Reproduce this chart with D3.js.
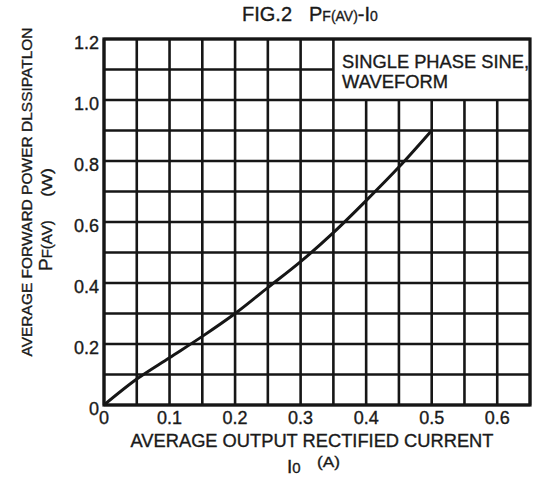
<!DOCTYPE html>
<html><head><meta charset="utf-8">
<script src="https://cdn.jsdelivr.net/npm/d3@7"></script>
<style>body{margin:0;background:#fff}svg{display:block}text{font-family:"Liberation Sans",Arial,sans-serif;fill:#1a1a1a;stroke:#1a1a1a;stroke-width:0.35px}</style>
</head><body><svg id="c" width="535" height="478"></svg>
<script>
const currentA = [0, 0.05, 0.1, 0.15, 0.2, 0.25, 0.3, 0.35, 0.4, 0.45, 0.5];
const powerW   = [0, 0.085, 0.155, 0.225, 0.3, 0.385, 0.47, 0.565, 0.67, 0.78, 0.9];
const xTicks = [0, 0.1, 0.2, 0.3, 0.4, 0.5, 0.6];
const xTickLabels = ["0", "0.1", "0.2", "0.3", "0.4", "0.5", "0.6"];
const yTicks = [0, 0.2, 0.4, 0.6, 0.8, 1.0, 1.2];
const yTickLabels = ["0", "0.2", "0.4", "0.6", "0.8", "1.0", "1.2"];
const xGrid = d3.range(0, 14).map(i => i * 0.05);
const yGrid = d3.range(0, 13).map(i => i * 0.1);
const legendBox = {x0: 0.35, x1: 0.65, y0: 1.0, y1: 1.2};

const svg = d3.select("#c");
const x = d3.scaleLinear().domain([0, 0.65]).range([104, 530]);
const y = d3.scaleLinear().domain([0, 1.2]).range([405, 39]);
const ink = "#161616";

const g = svg.append("g");
xGrid.forEach(v => {
  const top = (v > legendBox.x0 + 1e-6) ? y(legendBox.y0) : y(1.2);
  g.append("line").attr("x1", x(v)).attr("x2", x(v)).attr("y1", y(0)).attr("y2", top)
    .attr("stroke", ink).attr("stroke-width", 2.6);
});
yGrid.forEach(v => {
  const right = (v > legendBox.y0 + 1e-6 && v < 1.2 - 1e-6) ? x(legendBox.x0) : x(0.65);
  g.append("line").attr("x1", x(0)).attr("x2", right).attr("y1", y(v)).attr("y2", y(v))
    .attr("stroke", ink).attr("stroke-width", 2.6);
});
g.append("rect").attr("x", x(0)).attr("y", y(1.2)).attr("width", x(0.65) - x(0)).attr("height", y(0) - y(1.2))
  .attr("fill", "none").attr("stroke", ink).attr("stroke-width", 3.2);

const line = d3.line().x((d, i) => x(currentA[i])).y(d => y(d)).curve(d3.curveMonotoneX);
g.append("path").datum(powerW).attr("d", line).attr("fill", "none").attr("stroke", ink).attr("stroke-width", 3);

svg.selectAll(".xt").data(xTicks).enter().append("text")
  .attr("x", d => x(d)).attr("y", 424).attr("text-anchor", "middle").attr("font-size", 18)
  .text((d, i) => xTickLabels[i]);
svg.selectAll(".yt").data(yTicks).enter().append("text")
  .attr("x", 99).attr("y", d => y(d) + 10).attr("text-anchor", "end").attr("font-size", 18)
  .text((d, i) => yTickLabels[i]);

svg.append("text").attr("x", 342).attr("y", 68).attr("font-size", 18)
  .attr("textLength", 187).attr("lengthAdjust", "spacingAndGlyphs").text("SINGLE PHASE SINE,");
svg.append("text").attr("x", 342).attr("y", 88).attr("font-size", 18)
  .attr("textLength", 106).attr("lengthAdjust", "spacingAndGlyphs").text("WAVEFORM");

const t = svg.append("text").attr("y", 21).attr("font-size", 20);
t.append("tspan").attr("x", 242).text("FIG.2");
t.append("tspan").attr("x", 309).text("P");
t.append("tspan").attr("font-size", 14).text("F(AV)");
t.append("tspan").text("-I");
t.append("tspan").attr("font-size", 14).text("0");

svg.append("text").attr("x", 312).attr("y", 447).attr("text-anchor", "middle").attr("font-size", 18)
  .attr("textLength", 363).attr("lengthAdjust", "spacingAndGlyphs").text("AVERAGE OUTPUT RECTIFIED CURRENT");
const xu = svg.append("text").attr("x", 287).attr("y", 473).attr("font-size", 19);
xu.append("tspan").text("I");
xu.append("tspan").attr("font-size", 15).text("0");
svg.append("text").attr("x", 317).attr("y", 467).attr("font-size", 15)
  .attr("textLength", 23).attr("lengthAdjust", "spacingAndGlyphs").text("(A)");

svg.append("text").attr("transform", "translate(32,192) rotate(-90)").attr("text-anchor", "middle")
  .attr("font-size", 15.5).text("AVERAGE FORWARD POWER DLSSIPATLON");
const yu = svg.append("text").attr("transform", "translate(52,271) rotate(-90)").attr("font-size", 19);
yu.append("tspan").text("P");
yu.append("tspan").attr("font-size", 15).text("F(AV)");
svg.append("text").attr("transform", "translate(52,197) rotate(-90)").attr("font-size", 15)
  .attr("textLength", 29).attr("lengthAdjust", "spacingAndGlyphs").text("(W)");
</script></body></html>
